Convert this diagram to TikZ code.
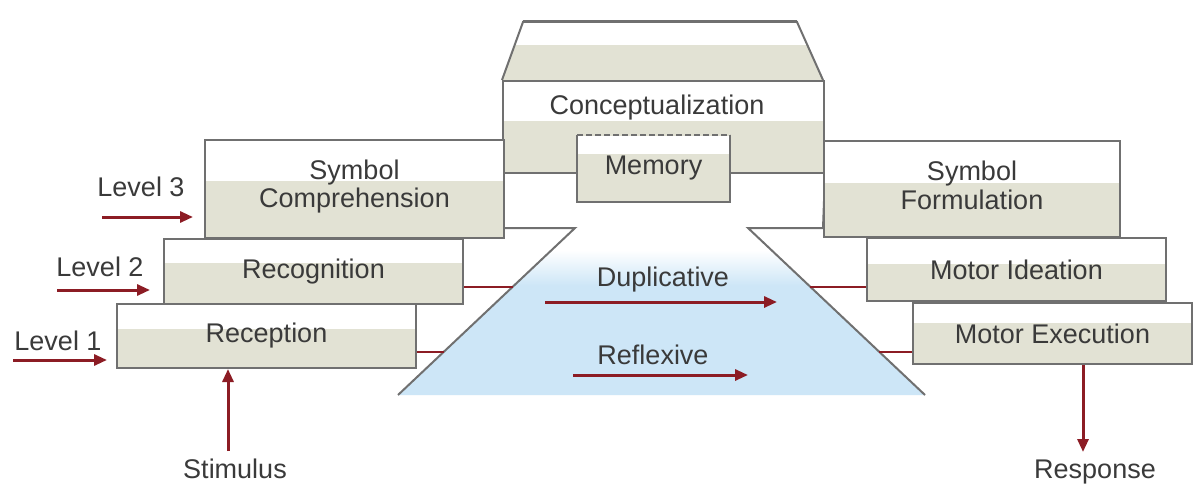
\documentclass[tikz,border=0pt]{standalone}
\usepackage{fontspec}
\setmainfont{Liberation Sans}
\usetikzlibrary{arrows.meta}
\definecolor{beige}{HTML}{E2E2D4}
\definecolor{fblue}{HTML}{CDE6F7}
\definecolor{dred}{HTML}{8C1C24}
\definecolor{edgegray}{HTML}{707070}
\definecolor{txt}{HTML}{3A3A3A}
\begin{document}
\begin{tikzpicture}[x=1pt,y=-1pt,
  box/.style={draw=edgegray, line width=2pt, fill=white, anchor=north west, inner sep=0pt,
    align=center, text=txt, font=\fontsize{27}{27}\selectfont,
    path picture={\fill[beige] (path picture bounding box.south west) rectangle ([yshift=#1]path picture bounding box.south east);}},
  lbl/.style={text=txt, font=\fontsize{27}{27}\selectfont, inner sep=0pt},
  arr/.style={draw=dred, line width=3pt, -{Triangle[length=13pt,width=11pt]}},
  conn/.style={draw=dred, line width=2.5pt},
  outline/.style={draw=edgegray, line width=2pt, line join=miter}
]
\useasboundingbox (0,0) rectangle (1193,487);
\fill[white] (0,0) rectangle (1193,487);

% funnel fill
\coordinate (ftl) at (575,228);
\coordinate (ftr) at (748,228);
\coordinate (fbl) at (398,395);
\coordinate (fbr) at (925,395);
\begin{scope}
  \clip (fbl) -- (ftl) -- (ftr) -- (fbr) -- cycle;
  \fill[fblue] (0,285) rectangle (1193,396);
  \shade[top color=white, bottom color=fblue] (0,250) rectangle (1193,285.5);
\end{scope}

% roof
\coordinate (r1) at (502,80);
\coordinate (r2) at (523,22);
\coordinate (r3) at (797,22);
\coordinate (r4) at (823,80);
\begin{scope}
  \clip (r1) -- (r2) -- (r3) -- (r4) -- cycle;
  \fill[white] (490,15) rectangle (830,45);
  \fill[beige] (490,45) rectangle (830,81);
\end{scope}
\draw[outline] (r1) -- (r2) -- (r3) -- (r4);
\draw[draw=edgegray, line width=3pt] (r2) -- (r3);

% conceptualization
\node[box=52pt, minimum width=321pt, minimum height=92pt] (concept) at (502,80) {};
\node[lbl] (concepttext) at (657,108) {Conceptualization};

% funnel outline
\coordinate (cl) at (502,228);
\coordinate (cr) at (823,228);
\draw[outline] (concept.south west) -- (cl) -- (ftl) -- (fbl);
\draw[outline] (concept.south east) -- (cr) -- (ftr) -- (fbr);

% memory
\node[box=47pt, draw=none, minimum width=151pt, minimum height=65pt] (mem) at (577,135) {Memory};
\draw[outline] (mem.north west) -- (mem.south west) -- (mem.south east) -- (mem.north east);
\draw[outline, dashed, dash pattern=on 6pt off 3pt] (mem.north west) -- (mem.north east);

% left boxes
\node[box=57pt, minimum width=299pt, minimum height=98pt, font=\fontsize{27}{28}\selectfont] (symcomp) at (204,139) {Symbol\\Comprehension\rule[-10pt]{0pt}{0pt}};
\node[box=41pt, minimum width=299pt, minimum height=65pt] (recog) at (163,238) {Recognition};
\node[box=39pt, minimum width=299pt, minimum height=64pt] (recep) at (116,303) {Reception};

% right boxes
\node[box=54pt, minimum width=296pt, minimum height=96pt, font=\fontsize{27}{29}\selectfont] (symform) at (823,140) {Symbol\\Formulation\rule[-8pt]{0pt}{0pt}};
\node[box=37pt, minimum width=299pt, minimum height=63pt] (motid) at (866,237) {Motor Ideation};
\node[box=41pt, minimum width=279pt, minimum height=61pt] (motex) at (912,302) {Motor Execution};

% connectors to funnel
\coordinate (fl2) at (512.5,287);
\coordinate (fl1) at (443.5,352);
\coordinate (fr2) at (810,287);
\coordinate (fr1) at (879,352);
\draw[conn] (fl2 -| recog.east) -- (fl2);
\draw[conn] (fl1 -| recep.east) -- (fl1);
\draw[conn] (fr2) -- (fr2 -| motid.west);
\draw[conn] (fr1) -- (fr1 -| motex.west);

% funnel texts and arrows
\node[lbl] (dup) at (663,280) {Duplicative};
\coordinate (dups) at (545,302);
\coordinate (dupe) at (777,302);
\draw[arr] (dups) -- (dupe);
\node[lbl] (refl) at (653,355) {Reflexive};
\coordinate (refs) at (573,375);
\coordinate (refe) at (748,375);
\draw[arr] (refs) -- (refe);

% levels
\node[lbl] (lv3) at (141,187) {Level 3};
\coordinate (l3s) at (102,217);
\draw[arr, shorten >=11pt] (l3s) -- (l3s -| symcomp.west);
\node[lbl] (lv2) at (100,267) {Level 2};
\coordinate (l2s) at (57,290);
\draw[arr, shorten >=13pt] (l2s) -- (l2s -| recog.west);
\node[lbl] (lv1) at (58,341) {Level 1};
\coordinate (l1s) at (13,360);
\draw[arr, shorten >=9pt] (l1s) -- (l1s -| recep.west);

% stimulus / response
\coordinate (stim) at (228,451);
\draw[arr] (stim) -- (stim |- recep.south);
\node[lbl, anchor=base] (stimtext) at (235,478) {Stimulus};
\coordinate (resp) at (1083,452);
\draw[arr] (resp |- motex.south) -- (resp);
\node[lbl, anchor=base] (resptext) at (1095,478) {Response};
\end{tikzpicture}
\end{document}
